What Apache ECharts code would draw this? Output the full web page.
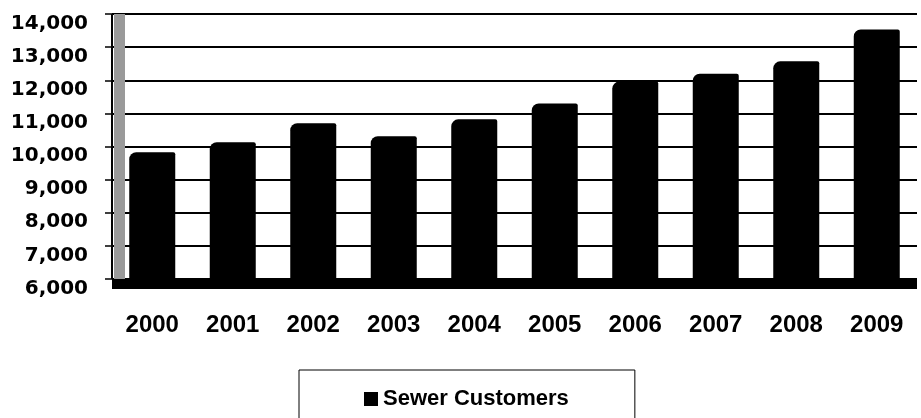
<!DOCTYPE html>
<html>
<head>
<meta charset="utf-8">
<script src="https://cdn.jsdelivr.net/npm/echarts@6/dist/echarts.min.js"></script>
<style>
    html, body { margin: 0; padding: 0; background: #fff; }
    #chart { width: 921px; height: 418px; }
</style>
</head>
<body>
<div id="chart"></div>
<script>
    // data
    var years = ['2000', '2001', '2002', '2003', '2004', '2005', '2006', '2007', '2008', '2009'];
    var sewerCustomers = [9830, 10130, 10700, 10310, 10820, 11300, 11960, 12200, 12570, 13530];
    var yMin = 6000;
    var yMax = 14000;
    var yStep = 1000;

    var myChart = echarts.init(document.getElementById('chart'));

    var valueAxisBase = {
        type: 'value',
        min: yMin,
        max: yMax,
        interval: yStep
    };

    myChart.setOption({
        animation: false,
        backgroundColor: '#fff',
        grid: {
            left: 112,
            right: 4,
            top: 14,
            bottom: 139
        },
        legend: {
            data: ['Sewer Customers'],
            left: 299,
            top: 370,
            padding: [18, 66, 32, 65],
            borderColor: '#000',
            borderWidth: 1,
            itemWidth: 14,
            itemHeight: 14,
            icon: 'rect',
            textStyle: {
                fontFamily: 'Liberation Sans, Arial, sans-serif',
                fontWeight: 'bold',
                fontSize: 22,
                color: '#000'
            }
        },
        xAxis: {
            type: 'category',
            data: years,
            offset: 5,
            axisLine: { lineStyle: { color: '#000', width: 10, cap: 'butt' } },
            axisTick: { length: 13, lineStyle: { color: '#000', width: 1.5 } },
            axisLabel: {
                interval: 0,
                margin: 29,
                fontFamily: 'Liberation Sans, Arial, sans-serif',
                fontWeight: 'bold',
                fontSize: 24,
                color: '#000'
            },
            splitLine: { show: false }
        },
        yAxis: [
            Object.assign({}, valueAxisBase, {
                position: 'left',
                axisLine: { show: true, lineStyle: { color: '#000', width: 2, cap: 'butt' } },
                axisTick: { show: true, length: 7, lineStyle: { color: '#000', width: 1.5 } },
                axisLabel: {
                    margin: 24,
                    verticalAlign: 'top',
                    lineHeight: 19,
                    fontFamily: 'DejaVu Sans, sans-serif',
                    fontWeight: 'bold',
                    fontSize: 20,
                    color: '#000',
                    formatter: function (v) { return v.toLocaleString('en-US'); }
                },
                splitLine: { show: true, lineStyle: { color: '#000', width: 2 } }
            }),
            // grey side wall of the 3D plot
            Object.assign({}, valueAxisBase, {
                position: 'left',
                offset: -7,
                axisLine: { show: true, lineStyle: { color: '#9a9a9a', width: 11, cap: 'butt' } },
                axisTick: { show: false },
                axisLabel: { show: false },
                splitLine: { show: false }
            })
        ],
        series: [
            {
                name: 'Sewer Customers',
                type: 'bar',
                yAxisIndex: 0,
                data: sewerCustomers,
                barWidth: 46,
                itemStyle: {
                    color: '#000',
                    borderRadius: [7, 2, 0, 0]
                }
            }
        ]
    });
</script>
</body>
</html>
